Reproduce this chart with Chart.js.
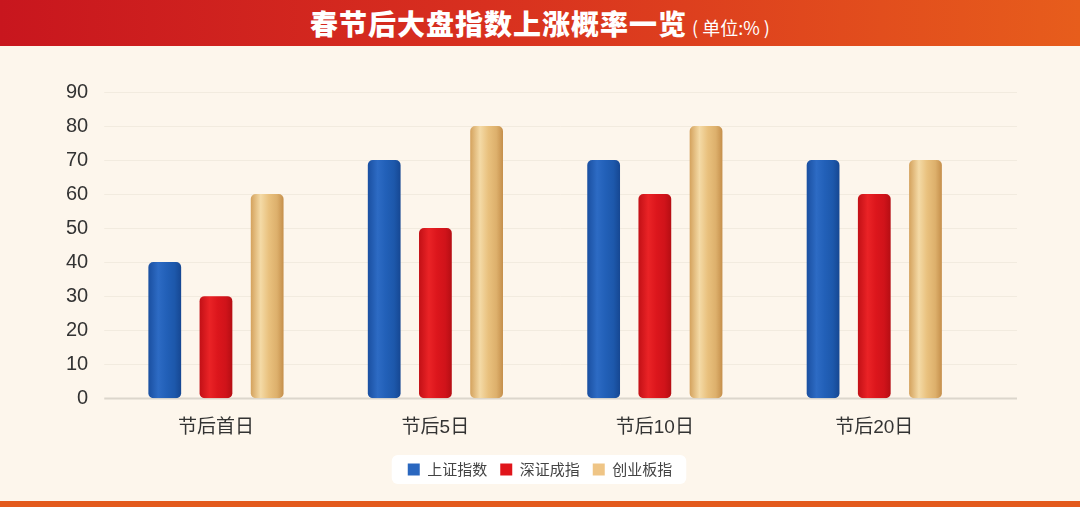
<!DOCTYPE html>
<html>
<head>
<meta charset="utf-8">
<script src="https://cdn.jsdelivr.net/npm/chart.js@4"></script>
<style>
  html, body { margin: 0; padding: 0; }
  body { width: 1080px; height: 507px; background: #fdf6ec; position: relative; overflow: hidden;
         font-family: "Liberation Sans", "Noto Sans CJK SC", sans-serif; }
  #title { position: absolute; left: 0; top: 0; width: 1080px; height: 46px;
           background: linear-gradient(90deg, #c8161e 0%, #d8301f 45%, #e75d1c 100%);
           color: #fff; text-align: center; line-height: 46px; z-index: 2; }
  #title b { font-family: "Noto Sans CJK SC", sans-serif; font-weight: 900; font-size: 28px; letter-spacing: 1px; }
  #title span { font-family: "Noto Sans CJK SC", sans-serif; font-size: 18px; font-weight: 400; margin-left: 5px; }
  #bottom { position: absolute; left: 0; top: 501px; width: 1080px; height: 6px; background: #e35a1c; z-index: 2; }
  #wrap { position: absolute; left: 0; top: 0; width: 1080px; height: 507px; }
</style>
</head>
<body>
<div id="title"><b>春节后大盘指数上涨概率一览</b><span>( 单位:% )</span></div>
<div id="wrap"><canvas id="probChart"></canvas></div>
<div id="bottom"></div>
<script>
const categories = ['节后首日', '节后5日', '节后10日', '节后20日'];
const seriesNames = ['上证指数', '深证成指', '创业板指'];
const shanghai = [40, 70, 70, 70];
const shenzhen = [30, 50, 60, 60];
const chinext = [60, 80, 80, 70];
const yMax = 90;
const yStep = 10;

const CAT_PCT = 0.7;
const BAR_PCT = 0.64;

// solid colour for legend, stops for the cylinder look
const solids = ['#2a67bf', '#e0151b', '#efc586'];
const stops = [
  ['#1a4fa0', '#2d6bc4', '#2260b8', '#1d58ab', '#164792'],
  ['#c21016', '#ea2326', '#dc161c', '#d0131a', '#b50e13'],
  ['#d4a25d', '#f4daa6', '#e9c17e', '#ddb06c', '#c58f4b']
];

function cylinder(ctx) {
  const i = ctx.datasetIndex;
  if (ctx.type !== 'data') return solids[i];
  const chart = ctx.chart;
  const x = chart.scales.x;
  if (!x) return solids[i];
  const slot = x.getPixelForValue(1) - x.getPixelForValue(0);
  const pitch = slot * CAT_PCT / 3;
  const w = pitch * BAR_PCT;
  const cx = x.getPixelForValue(ctx.dataIndex) + (i - 1) * pitch;
  if (!isFinite(cx) || !isFinite(w) || w <= 0) return solids[i];
  const g = chart.ctx.createLinearGradient(cx - w / 2, 0, cx + w / 2, 0);
  const s = stops[i];
  g.addColorStop(0, s[0]);
  g.addColorStop(0.3, s[1]);
  g.addColorStop(0.55, s[2]);
  g.addColorStop(0.8, s[3]);
  g.addColorStop(1, s[4]);
  return g;
}

const gridPlugin = {
  id: 'longGrid',
  beforeDraw(chart) {
    const c = chart.ctx;
    const y = chart.scales.y;
    const left = chart.chartArea.left - 2;
    const right = 1017;
    c.save();
    y.ticks.forEach(t => {
      const py = Math.round(y.getPixelForValue(t.value)) + 0.5;
      c.beginPath();
      c.moveTo(left, py);
      c.lineTo(right, py);
      c.lineWidth = t.value === 0 ? 2 : 1;
      c.strokeStyle = t.value === 0 ? '#dcd6cc' : '#f2ebdf';
      c.stroke();
    });
    // legend backdrop
    const boxes = chart.legend.legendHitBoxes;
    if (boxes && boxes.length) {
      const l = Math.min(...boxes.map(b => b.left)) - 16;
      const r = Math.max(...boxes.map(b => b.left + b.width)) + 14;
      const t = Math.min(...boxes.map(b => b.top)) - 7;
      const b2 = Math.max(...boxes.map(b => b.top + b.height)) + 7;
      c.fillStyle = '#ffffff';
      c.beginPath();
      c.roundRect(l, t, r - l, b2 - t, 6);
      c.fill();
    }
    c.restore();
  }
};

const barOpts = {
  backgroundColor: cylinder,
  borderRadius: 5,
  borderSkipped: false,
  categoryPercentage: CAT_PCT,
  barPercentage: BAR_PCT
};

new Chart(document.getElementById('probChart'), {
  type: 'bar',
  data: {
    labels: categories,
    datasets: [
      Object.assign({ label: seriesNames[0], data: shanghai }, barOpts),
      Object.assign({ label: seriesNames[1], data: shenzhen }, barOpts),
      Object.assign({ label: seriesNames[2], data: chinext }, barOpts)
    ]
  },
  options: {
    responsive: true,
    maintainAspectRatio: false,
    animation: false,
    layout: { padding: { left: 56, right: 56, top: 92, bottom: 20 } },
    scales: {
      x: {
        grid: { display: false },
        border: { display: false },
        ticks: { color: '#333', padding: 10, font: { size: 19, family: '"Liberation Sans", "Noto Sans CJK SC", sans-serif' } }
      },
      y: {
        min: 0,
        max: yMax,
        grid: { display: false },
        border: { display: false },
        ticks: { stepSize: yStep, color: '#333', padding: 10, font: { size: 20, family: '"Liberation Sans", sans-serif' } }
      },
      // empty right-hand axis: keeps the plot narrower while the legend stays centred
      spacer: {
        position: 'right',
        display: true,
        grid: { display: false },
        border: { display: false },
        ticks: { display: false },
        afterFit(scale) { scale.width = 40; }
      }
    },
    plugins: {
      legend: {
        position: 'bottom',
        labels: {
          boxWidth: 12, boxHeight: 12, padding: 13, color: '#444',
          font: { size: 15, family: '"Noto Sans CJK SC", sans-serif' },
          generateLabels(chart) {
            const items = Chart.defaults.plugins.legend.labels.generateLabels(chart);
            items.forEach(it => { it.fillStyle = solids[it.datasetIndex]; it.strokeStyle = solids[it.datasetIndex]; it.lineWidth = 0; });
            return items;
          }
        }
      },
      title: { display: false },
      tooltip: { enabled: false }
    }
  },
  plugins: [gridPlugin]
});
</script>
</body>
</html>
